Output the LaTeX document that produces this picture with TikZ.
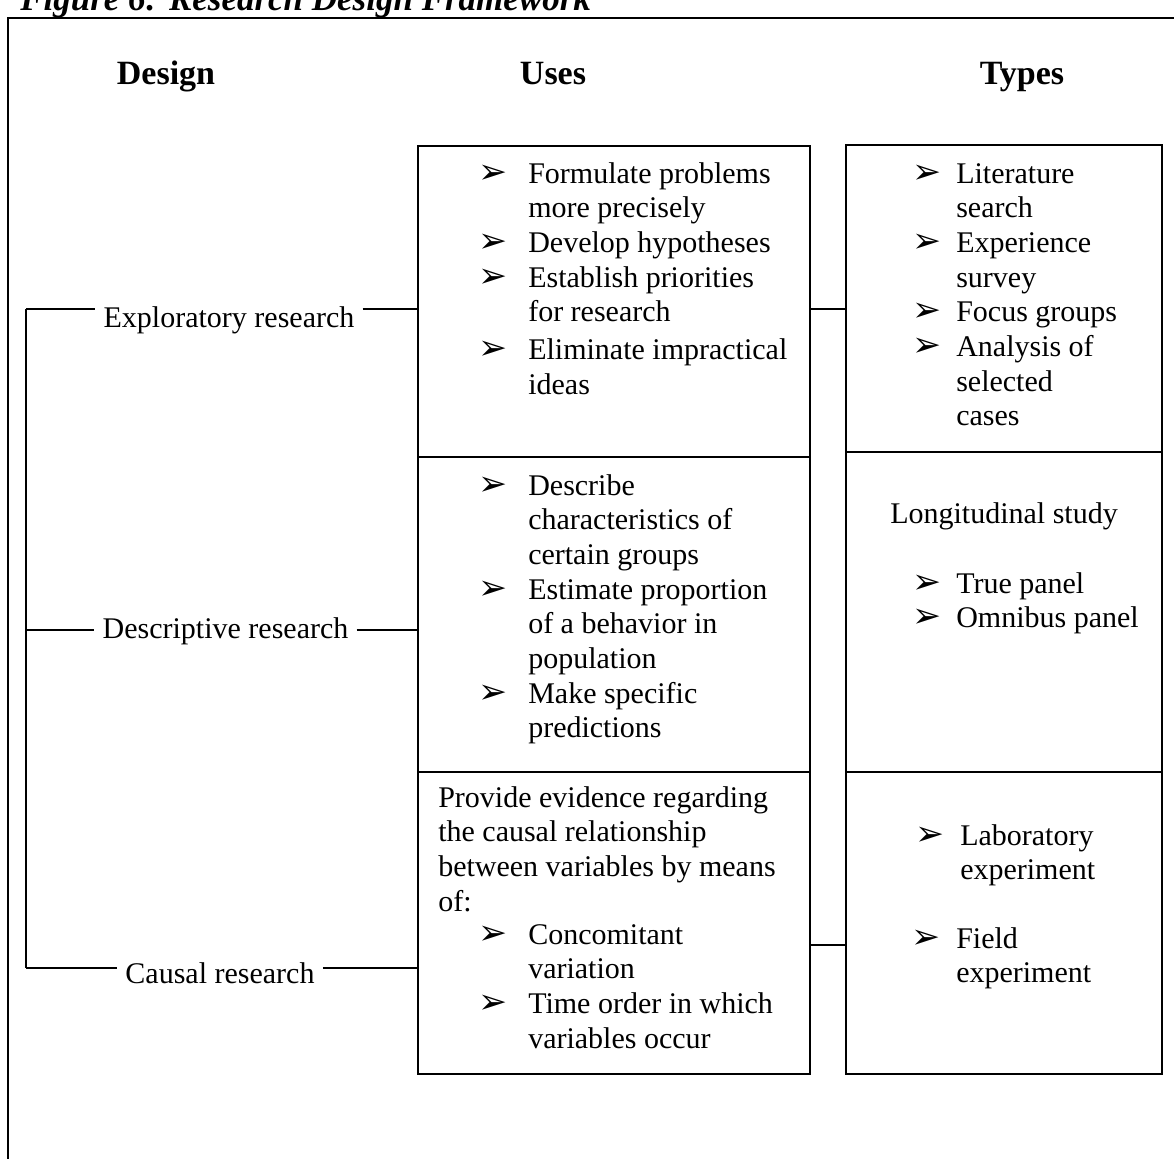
\documentclass[tikz,border=0pt]{standalone}
\usepackage{fontspec}
\setmainfont{Liberation Serif}
\newfontfamily\dingfont{DejaVu Sans}
\usetikzlibrary{positioning}

\newcommand{\arrb}{{\dingfont\fontsize{26}{26}\selectfont ➢}}
\newcommand{\bl}[1]{\makebox[#1][l]{\arrb}}

\tikzset{
  usebox/.style={draw, line width=1.1pt, inner sep=0pt, minimum width=294pt},
  typebox/.style={draw, line width=1.1pt, inner sep=0pt, minimum width=237pt},
  txt/.style={inner sep=0pt, anchor=base west, font=\fontsize{22.5}{26}\selectfont},
  lbl/.style={inner xsep=6pt, inner ysep=0pt, anchor=base, font=\fontsize{22.5}{26}\selectfont},
  head/.style={inner sep=0pt, anchor=base, font=\fontsize{25.5}{30}\selectfont\bfseries},
  link/.style={line width=0.8pt}
}

\begin{document}
\begin{tikzpicture}[x=0.75pt,y=-0.75pt]
\clip (0,0) rectangle (1174,1158);

% title and frame
\node[inner sep=0pt, anchor=base west, font=\fontsize{26.25}{30}\selectfont\bfseries\itshape] (title) at (20,10) {Figure 6: Research Design Framework};
\draw[line width=1.1pt] (1200,18) -- (8,18) -- (8,1200);

% column heads
\node[head] (hdesign) at (166,84) {Design};
\node[head] (huses) at (553,84) {Uses};
\node[head] (htypes) at (1022,84) {Types};

% boxes
\node[usebox, minimum height=233.25pt] (u1) at (614,301.5) {};
\node[usebox, minimum height=236.25pt] (u2) at (614,614.5) {};
\node[usebox, minimum height=226.5pt] (u3) at (614,923) {};
\node[typebox, minimum height=230.25pt] (t1) at (1004,298.5) {};
\node[typebox, minimum height=240pt] (t2) at (1004,612) {};
\node[typebox, minimum height=226.5pt] (t3) at (1004,923) {};

% design labels
\node[lbl] (explr) at (229,327) {Exploratory research};
\node[lbl] (descr) at (225.5,638) {Descriptive research};
\node[lbl] (causl) at (220,983) {Causal research};

% uses texts
\node[txt] (u1txt) at (478,183) {\begin{tabular}[t]{@{}l@{}l@{}}
\bl{37.5pt} & Formulate problems\\
 & more precisely\\
\bl{37.5pt} & Develop hypotheses\\
\bl{37.5pt} & Establish priorities\\
 & for research\\[2.5pt]
\bl{37.5pt} & Eliminate impractical\\
 & ideas
\end{tabular}};
\node[txt] (u2txt) at (478,495) {\begin{tabular}[t]{@{}l@{}l@{}}
\bl{37.5pt} & Describe\\
 & characteristics of\\
 & certain groups\\
\bl{37.5pt} & Estimate proportion\\
 & of a behavior in\\
 & population\\
\bl{37.5pt} & Make specific\\
 & predictions
\end{tabular}};
\node[txt] (u3par) at (438,807) {\begin{tabular}[t]{@{}l@{}}
Provide evidence regarding\\
the causal relationship\\
between variables by means\\
of:
\end{tabular}};
\node[txt] (u3txt) at (478,944) {\begin{tabular}[t]{@{}l@{}l@{}}
\bl{37.5pt} & Concomitant\\
 & variation\\
\bl{37.5pt} & Time order in which\\
 & variables occur
\end{tabular}};

% types texts
\node[txt] (t1txt) at (912,183) {\begin{tabular}[t]{@{}l@{}l@{}}
\bl{33pt} & Literature\\
 & search\\
\bl{33pt} & Experience\\
 & survey\\
\bl{33pt} & Focus groups\\
\bl{33pt} & Analysis of\\
 & selected\\
 & cases
\end{tabular}};
\node[txt] (longi) at (890,523) {Longitudinal study};
\node[txt] (t2txt) at (912,593) {\begin{tabular}[t]{@{}l@{}l@{}}
\bl{33pt} & True panel\\
\bl{33pt} & Omnibus panel
\end{tabular}};
\node[txt] (labex) at (915,845) {\begin{tabular}[t]{@{}l@{}l@{}}
\bl{33.75pt} & Laboratory\\
 & experiment
\end{tabular}};
\node[txt] (fldex) at (911,948) {\begin{tabular}[t]{@{}l@{}l@{}}
\bl{33.75pt} & Field\\
 & experiment
\end{tabular}};

% connectors
\coordinate (j1) at (26,309);
\coordinate (j2) at (26,630);
\coordinate (j3) at (26,968);
\coordinate (k3) at (828,945);
\draw[link] (j1) -- (j3);
\draw[link] (j1) -- (explr.west |- j1);
\draw[link] (explr.east |- j1) -- (j1 -| u1.west);
\draw[link] (j2) -- (descr.west |- j2);
\draw[link] (descr.east |- j2) -- (j2 -| u2.west);
\draw[link] (j3) -- (causl.west |- j3);
\draw[link] (causl.east |- j3) -- (j3 -| u3.west);
\draw[link] (j1 -| u1.east) -- (j1 -| t1.west);
\draw[link] (k3 -| u3.east) -- (k3 -| t3.west);
\end{tikzpicture}
\end{document}
